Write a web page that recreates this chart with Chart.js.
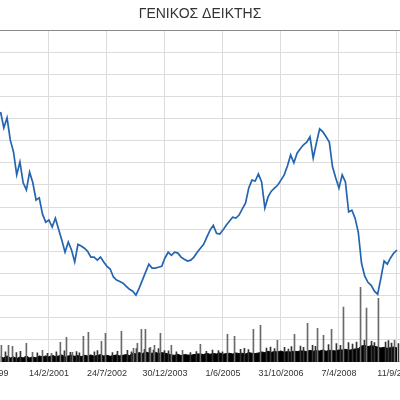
<!DOCTYPE html>
<html>
<head>
<meta charset="utf-8">
<script src="https://cdn.jsdelivr.net/npm/chart.js"></script>
<style>
  html, body { margin: 0; padding: 0; background: #fff; overflow: hidden; width: 400px; height: 400px; }
  #chart { position: absolute; left: -40px; top: 0; }
</style>
</head>
<body>
<canvas id="chart" width="480" height="400"></canvas>
<script>
// x axis is counted in trading days; one grid step = 360 days
const tickDays = [0, 360, 720, 1080, 1440, 1800, 2160, 2520];
const tickLabels = ['9/9/1999', '14/2/2001', '24/7/2002', '30/12/2003', '1/6/2005', '31/10/2006', '7/4/2008', '11/9/2009'];

// index close, one reading every 20 trading days starting at day 60
const firstDay = 60;
const stepDays = 20;
const indexValues = [
  5650, 5290, 5520, 5020, 4750, 4230, 4520, 4050, 3890, 4290,
  4050, 3660, 3710, 3340, 3160, 3210, 3050, 3250, 3000, 2750,
  2480, 2710, 2530, 2260, 2660, 2620, 2570, 2500, 2370, 2370,
  2300, 2370, 2260, 2160, 2100, 1920, 1850, 1820, 1780, 1710,
  1640, 1600, 1510, 1670, 1850, 2030, 2210, 2120, 2120, 2140,
  2160, 2350, 2480, 2410, 2480, 2460, 2370, 2320, 2280, 2300,
  2370, 2480, 2570, 2660, 2820, 2980, 3090, 2910, 2890, 2980,
  3090, 3180, 3270, 3250, 3320, 3460, 3590, 3930, 4110, 4090,
  4250, 4070, 3480, 3730, 3860, 3930, 4000, 4110, 4230, 4430,
  4680, 4500, 4720, 4820, 4910, 4970, 5090, 4610, 4950, 5270,
  5200, 5090, 4970, 4410, 4160, 3930, 4230, 4070, 3390, 3430,
  3250, 2930, 2230, 1940, 1800, 1730, 1600, 1530, 1890, 2280,
  2210, 2350, 2460, 2530
];

// typical traded volume, same sampling as the index
const volumeBase = [
  15, 12, 18, 12, 15, 10, 15, 12, 18, 12, 15, 12, 18, 15,
  18, 15, 20, 16, 18, 21, 15, 18, 20, 17, 19, 16, 20, 18, 21, 17, 19, 22, 18, 20, 17, 19, 21, 18, 20, 22, 19,
  26, 24, 28, 25, 30, 27, 26, 29, 25, 28, 26, 24,
  21, 20, 23, 19, 22, 21, 20, 22, 24,
  24, 22, 26, 23, 25, 24, 27, 23, 25, 26, 24, 27, 25, 26, 24, 28, 26, 25, 27,
  30, 28, 32, 29, 31, 30, 33, 29, 31, 30, 32, 31, 33,
  33, 31, 35, 32, 34, 33, 36, 32, 35, 34, 33, 36,
  36, 38, 35, 37, 39, 40,
  48, 50, 46, 49, 47, 45,
  42, 44, 41, 43, 45, 42
];

// single days with very high volume
const spikeDays = [68, 112, 137, 223, 261, 323, 379, 434, 472, 509, 577, 608, 689, 714, 813, 888, 912, 937, 962, 993,
  1018, 1055, 1123, 1192, 1303, 1471, 1515, 1632, 1676, 1781, 1887, 1968, 2030, 2067, 2117, 2191, 2297, 2334, 2408, 2508];
const spikeVolumes = [50, 50, 47, 56, 29, 35, 26, 59, 74, 29, 77, 89, 62, 86, 92, 41, 56, 98, 98, 44,
  50, 86, 50, 35, 53, 83, 77, 98, 110, 65, 83, 116, 101, 80, 98, 165, 225, 162, 192, 65];

// busier days that stick a little out of the dense band
const minorDays = [87, 155, 180, 285, 348, 403, 453, 490, 528, 546,
  639, 658, 751, 782, 844, 869, 900, 950, 981, 1006,
  1037, 1074, 1099, 1148, 1235, 1272, 1334, 1372, 1409, 1434,
  1546, 1570, 1595, 1707, 1732, 1757, 1819, 1843, 1862, 1918,
  1937, 1993, 2011, 2092, 2141, 2166, 2216, 2241, 2266, 2315,
  2359, 2377, 2446, 2464, 2483, 2526];
const minorVolumes = [30, 28, 32, 27, 26, 30, 33, 29, 31, 27,
  30, 34, 28, 32, 35, 30, 40, 38, 42, 36,
  40, 34, 33, 30, 28, 31, 32, 36, 34, 30,
  38, 41, 37, 42, 45, 40, 44, 39, 46, 48,
  44, 50, 47, 52, 55, 50, 58, 54, 60, 65,
  62, 58, 60, 64, 57, 55];

const lineData = indexValues.map((v, i) => ({ x: firstDay + i * stepDays, y: v }));
const baseData = volumeBase.map((v, i) => ({ x: firstDay + i * stepDays, y: v }));
const spikeData = spikeDays.map((d, i) => ({ x: d, y: spikeVolumes[i] }));
const minorData = minorDays.map((d, i) => ({ x: d, y: minorVolumes[i] }));

new Chart(document.getElementById('chart'), {
  type: 'line',
  data: {
    datasets: [
      {
        label: 'ΓΕΝΙΚΟΣ ΔΕΙΚΤΗΣ',
        data: lineData,
        borderColor: '#2465b0',
        borderWidth: 1.7,
        pointRadius: 0,
        tension: 0,
        yAxisID: 'y',
        order: 0
      },
      {
        type: 'bar',
        label: 'spikes',
        data: spikeData,
        backgroundColor: '#6a6a6a',
        barThickness: 1,
        yAxisID: 'yv',
        order: 1
      },
      {
        type: 'bar',
        label: 'minor',
        data: minorData,
        backgroundColor: '#333',
        barThickness: 1,
        yAxisID: 'yv',
        order: 2
      },
      {
        label: 'volume',
        data: baseData,
        borderColor: '#000',
        backgroundColor: '#000',
        borderWidth: 1,
        pointRadius: 0,
        tension: 0,
        fill: 'origin',
        yAxisID: 'yv',
        order: 3
      }
    ]
  },
  options: {
    responsive: false,
    animation: false,
    layout: { padding: { left: 0, right: 0, top: 0, bottom: 15.3 } },
    plugins: {
      legend: { display: false },
      tooltip: { enabled: false },
      title: {
        display: true,
        text: 'ΓΕΝΙΚΟΣ ΔΕΙΚΤΗΣ',
        color: '#333',
        font: { family: 'Liberation Sans, Arial, sans-serif', size: 14, weight: 'normal' },
        padding: { top: 6, bottom: 7.4 }
      }
    },
    scales: {
      x: {
        type: 'linear',
        min: -192,
        max: 2787,
        offset: false,
        afterBuildTicks: axis => { axis.ticks = tickDays.map(d => ({ value: d })); },
        afterFit: axis => { axis.paddingLeft = 0; axis.paddingRight = 0; },
        ticks: {
          autoSkip: false,
          maxRotation: 0,
          padding: 6,
          color: '#333',
          font: { family: 'Liberation Sans, Arial, sans-serif', size: 9 },
          callback: value => tickLabels[tickDays.indexOf(value)]
        },
        grid: { color: '#dcdcdc', lineWidth: 1, drawTicks: false, offset: false },
        border: { display: false }
      },
      y: {
        min: 0,
        max: 7500,
        ticks: { display: false, stepSize: 500 },
        grid: {
          drawTicks: false,
          lineWidth: 1,
          color: c => c.tick && c.tick.value === 7500 ? '#8a8a8a' : '#dcdcdc'
        },
        border: { display: false }
      },
      yv: {
        display: false,
        min: 0,
        max: 1000
      }
    }
  }
});
</script>
</body>
</html>
